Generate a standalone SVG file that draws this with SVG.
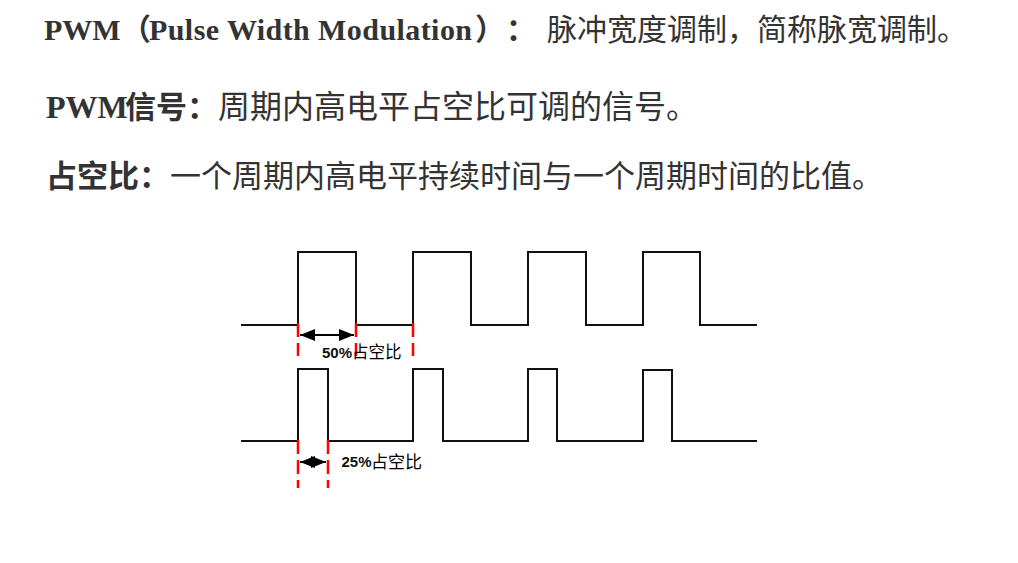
<svg xmlns="http://www.w3.org/2000/svg" width="1018" height="563" viewBox="0 0 1018 563">
<style>
.t{fill:#333333;}
.lat{font-family:"Liberation Serif","Times New Roman",serif;font-weight:bold;}
.cjk{font-family:"Noto Sans CJK SC","Noto Sans CJK JP",sans-serif;}
.b{font-weight:bold;}
.wave{fill:none;stroke:#111111;stroke-width:2;}
.dash{stroke:#ff0000;stroke-width:2.5;stroke-dasharray:14 6;fill:none;}
.arr{stroke:#000000;stroke-width:2;fill:none;marker-start:url(#ah);marker-end:url(#ah);}
.num{font-family:"Liberation Sans",Arial,sans-serif;font-weight:bold;fill:#111111;}
.lbl{font-family:"Noto Sans CJK SC","Noto Sans CJK JP",sans-serif;fill:#000000;}
</style>
<defs>
<marker id="ah" viewBox="0 0 15 12" refX="15" refY="6" markerWidth="15" markerHeight="12" markerUnits="userSpaceOnUse" orient="auto-start-reverse">
<path d="M0,0 L15,6 L0,12 z" fill="#000000"/>
</marker>
</defs>
<rect x="0" y="0" width="1018" height="563" fill="#ffffff"/>

<g id="line1">
<text class="t lat" x="44" y="40" font-size="30">PWM</text>
<text class="t cjk b" x="121" y="40" font-size="30">（</text>
<text class="t lat" x="149" y="40" font-size="30" textLength="323">Pulse Width Modulation</text>
<text class="t cjk b" x="475" y="40" font-size="30">）</text>
<text class="t cjk b" x="506" y="40" font-size="30">：</text>
<text class="t cjk" x="547" y="40" font-size="30">脉冲宽度调制，简称脉宽调制。</text>
</g>

<g id="line2">
<text class="t lat" x="46" y="118" font-size="32">PWM</text>
<text class="t cjk b" x="125" y="118" font-size="31">信号：</text>
<text class="t cjk" x="218" y="118" font-size="32">周期内高电平占空比可调的信号。</text>
</g>

<g id="line3">
<text class="t cjk b" x="46" y="187" font-size="31">占空比：</text>
<text class="t cjk" x="170" y="187" font-size="31">一个周期内高电平持续时间与一个周期时间的比值。</text>
</g>

<g id="wave50">
<path class="wave" d="M241,325 H298 V252 H356 V325 H413 V252 H471 V325 H528 V252 H586 V325 H643 V252 H700 V325 H757"/>
</g>

<g id="wave25">
<path class="wave" d="M241,441 H298 V369 H328 V441 H413 V369 H443 V441 H528 V369 H557 V441 H643 V370 H672 V441 H757"/>
</g>

<g id="markers50">
<line class="dash" x1="298" y1="323" x2="298" y2="356"/>
<line class="dash" x1="356" y1="323" x2="356" y2="356"/>
<line class="dash" x1="413" y1="323" x2="413" y2="356"/>
<text class="num" x="322" y="357.5" font-size="15">50%</text>
<text class="lbl" x="352" y="358" font-size="16.5">占空比</text>
</g>

<g id="markers25">
<line class="dash" x1="298" y1="440" x2="298" y2="488"/>
<line class="dash" x1="328" y1="440" x2="328" y2="488"/>
<text class="num" x="341.5" y="467" font-size="15">25%</text>
<text class="lbl" x="371" y="468" font-size="17">占空比</text>
</g>

<g id="connectors">
<line class="arr" x1="300" y1="335" x2="354" y2="335"/>
<line class="arr" x1="300" y1="462" x2="326" y2="462"/>
</g>
</svg>
